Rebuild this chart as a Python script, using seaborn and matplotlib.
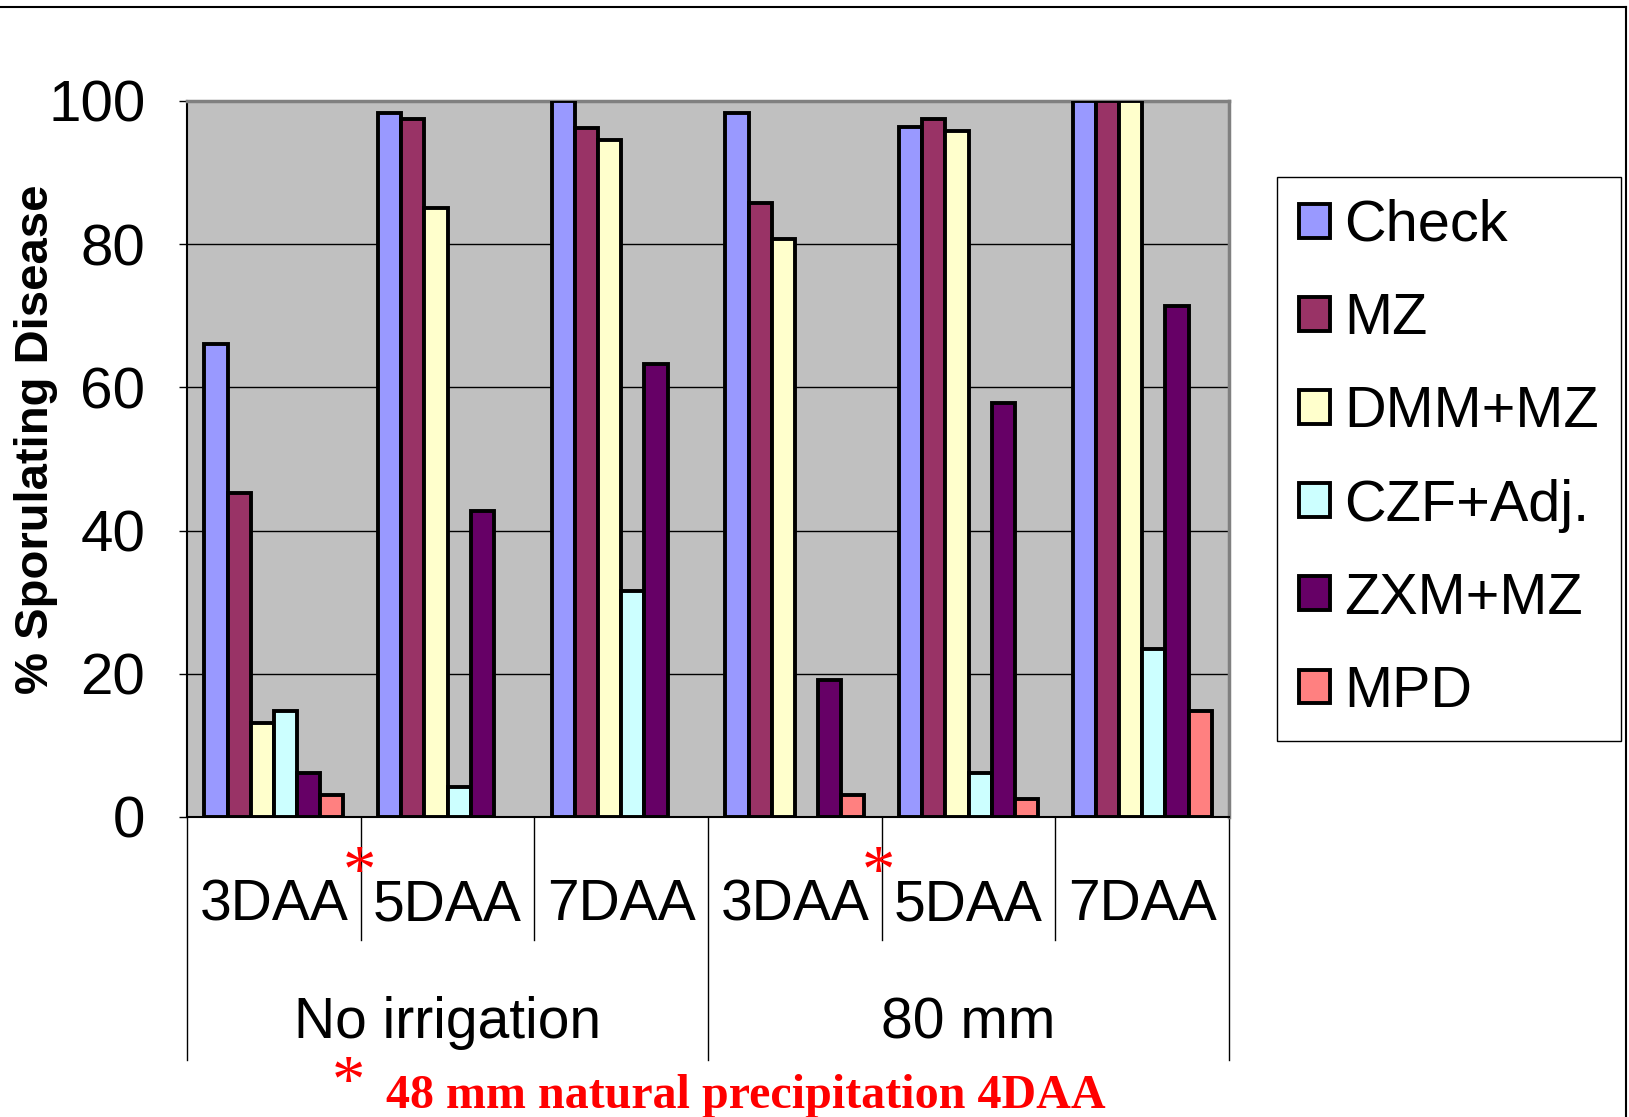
import pandas as pd
import numpy as np
import seaborn as sns
import matplotlib.pyplot as plt
from matplotlib.lines import Line2D

# data
treatments = ["Check", "MZ", "DMM+MZ", "CZF+Adj.", "ZXM+MZ", "MPD"]
days = ["3DAA", "5DAA", "7DAA", "3DAA", "5DAA", "7DAA"]
irrigation = ["No irrigation", "No irrigation", "No irrigation", "80 mm", "80 mm", "80 mm"]
check = [66, 98.3, 100, 98.3, 96.4, 100]
mz = [45.3, 97.5, 96.2, 85.8, 97.5, 100]
dmm_mz = [13.1, 85, 94.5, 80.7, 95.8, 100]
czf_adj = [14.8, 4.2, 31.5, np.nan, 6.2, 23.5]
zxm_mz = [6.2, 42.8, 63.3, 19.2, 57.8, 71.4]
mpd = [3.0, np.nan, np.nan, 3.0, 2.5, 14.8]

colors = ["#9999FF", "#993366", "#FFFFCC", "#CCFFFF", "#660066", "#FF8080"]

series = [check, mz, dmm_mz, czf_adj, zxm_mz, mpd]
cats = [f"{d} {g}" for d, g in zip(days, irrigation)]
rows = []
for t, vals in zip(treatments, series):
    for c, v in zip(cats, vals):
        rows.append({"cat": c, "treat": t, "val": v})
df = pd.DataFrame(rows)

plt.rcParams["font.family"] = ["Liberation Sans", "DejaVu Sans"]

fig = plt.figure(figsize=(16.29, 11.17), dpi=100)
ax = fig.add_axes([0.1148, 0.2686, 0.6397, 0.641])
ax.set_facecolor("#C0C0C0")

sns.barplot(data=df, x="cat", y="val", hue="treat", order=cats, hue_order=treatments,
            palette=dict(zip(treatments, colors)), saturation=1, errorbar=None,
            edgecolor="black", linewidth=2.8, width=0.8, ax=ax, zorder=3)

ax.set_xlim(-0.5, 5.5)
ax.set_ylim(0, 100)
ax.set_yticks([0, 20, 40, 60, 80, 100])
ax.yaxis.grid(True, color="black", linewidth=1)
ax.set_axisbelow(True)
ax.tick_params(axis="y", labelsize=42, length=6, width=1, pad=24, direction="out")
ax.set_xlabel("")
ax.set_ylabel("")

ax.set_xticks(range(6))
ax.set_xticklabels(days, fontsize=41)
ax.tick_params(axis="x", length=0, pad=44)

for s in ["top", "right"]:
    ax.spines[s].set_color("#808080")
    ax.spines[s].set_linewidth(2.5)
for s in ["left", "bottom"]:
    ax.spines[s].set_color("black")
    ax.spines[s].set_linewidth(1.5)

# category separators under the axis
trans = ax.get_xaxis_transform()
for xb in [0.5, 1.5, 3.5, 4.5]:
    ax.plot([xb, xb], [0, -0.172], color="black", lw=1, transform=trans, clip_on=False)
for xb in [-0.5, 2.5, 5.5]:
    ax.plot([xb, xb], [0, -0.339], color="black", lw=1, transform=trans, clip_on=False)

ax.text(1, -0.288, "No irrigation", fontsize=41, ha="center", va="center", transform=trans)
ax.text(4, -0.288, "80 mm", fontsize=41, ha="center", va="center", transform=trans)

# rain markers
for xb in [0.5, 3.49]:
    ax.text(xb - 0.01, -0.08, "*", color="red", fontsize=48, ha="center", va="center",
            family="Liberation Serif", transform=trans)

fig.text(0.022, 0.607, "% Sporulating Disease", rotation=90, fontsize=34, fontweight="bold",
         ha="center", va="center")

fig.text(0.214, 0.029, "*", color="red", fontsize=48, ha="center", va="center",
         family="Liberation Serif")
fig.text(0.237, 0.019, "48 mm natural precipitation 4DAA", color="red", fontsize=34.6,
         fontweight="bold", family="Liberation Serif", ha="left", va="center")

handles, labels = ax.get_legend_handles_labels()
ax.legend(handles, labels, loc="upper left", bbox_to_anchor=(0.784, 0.8415),
          bbox_transform=fig.transFigure, fontsize=41.5, frameon=True, fancybox=False,
          edgecolor="black", framealpha=1, handlelength=0.53, handleheight=0.53,
          handletextpad=0.26, labelspacing=0.68, borderpad=0.38, borderaxespad=0)
ax.get_legend().get_frame().set_linewidth(1)

# outer chart border
fig.add_artist(Line2D([0, 0.998], [0.994, 0.994], color="black", lw=1.5, transform=fig.transFigure))
fig.add_artist(Line2D([0.998, 0.998], [0, 0.994], color="black", lw=1.5, transform=fig.transFigure))

fig.savefig("out.png", dpi=100)
plt.close()
